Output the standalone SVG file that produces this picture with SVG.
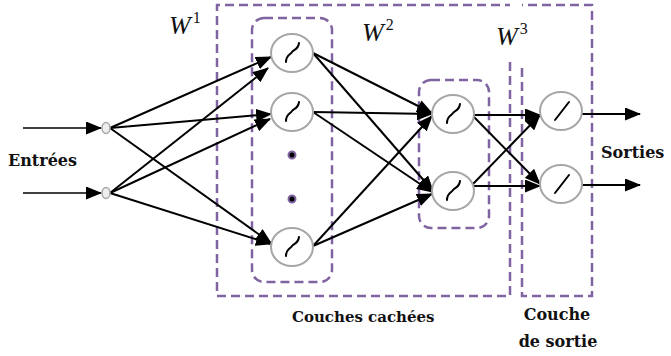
<svg xmlns="http://www.w3.org/2000/svg" xmlns:xlink="http://www.w3.org/1999/xlink" width="671" height="356" viewBox="0 0 671 356">
<style>
.box{fill:none;stroke:#8064A2;stroke-width:2.5;stroke-dasharray:9 5}
.neuron{fill:#fff;stroke:#a6a6a6;stroke-width:2}
.inp{fill:#eeeeee;stroke:#a6a6a6;stroke-width:1.5}
.glyph{fill:none;stroke:#000;stroke-width:2;stroke-linecap:round}
.edge{fill:none;stroke:#000;stroke-width:2;marker-end:url(#ah)}
.lbl{font-family:"DejaVu Serif","Liberation Serif",serif;font-weight:bold;font-size:16px;fill:#111}
.w{font-family:"Liberation Serif",serif;font-style:italic;font-size:26px;fill:#111}
.sup{font-style:normal;font-size:16px}
.dot{fill:#000;stroke:#8064A2;stroke-width:2}
</style>
<defs>
<marker id="ah" markerWidth="16" markerHeight="13" refX="15" refY="6.5" orient="auto" markerUnits="userSpaceOnUse">
<path d="M0,0 L16,6.5 L0,13 z" fill="#000"/>
</marker>
<path id="sig" class="glyph" d="M-6,9 C-6,2 -2,2 0,-1 C2,-4 6,-3 7,-10"/>
<path id="lin" class="glyph" d="M-7,9 L7,-9"/>
</defs>

<g id="boxes">
<path class="box" d="M510,62 L510,296 L217,296 L217,5 L510,5"/>
<path class="box" d="M522,68 L522,296 L592,296 L592,5 L522,5"/>
<rect class="box" x="252" y="18" width="80" height="264" rx="12"/>
<rect class="box" x="419" y="80" width="70" height="148" rx="12"/>
</g>

<g id="connectors">
<path class="edge" style="stroke-width:1.5" d="M23,128 L101,128"/>
<path class="edge" style="stroke-width:1.5" d="M23,193 L101,193"/>
<path class="edge" d="M110,128 L271,57"/>
<path class="edge" d="M110,128 L271,114"/>
<path class="edge" d="M110,128 L271,243"/>
<path class="edge" d="M110,193 L268,68"/>
<path class="edge" d="M110,193 L270,119"/>
<path class="edge" d="M110,193 L271,244"/>
<path class="edge" d="M313,53 L432,113"/>
<path class="edge" d="M313,53 L433,191"/>
<path class="edge" d="M313,112 L432,114"/>
<path class="edge" d="M313,112 L432,192"/>
<path class="edge" d="M313,246 L432,116"/>
<path class="edge" d="M313,246 L432,194"/>
<path class="edge" d="M474,115 L540,115"/>
<path class="edge" d="M473,116 L540,184"/>
<path class="edge" d="M473,184 L540,115"/>
<path class="edge" d="M474,186 L540,186"/>
<path class="edge" d="M582,114 L640,114"/>
<path class="edge" d="M582,185 L640,185"/>
</g>

<g id="in1"><ellipse class="inp" cx="106" cy="128" rx="4" ry="5.5"/></g>
<g id="in2"><ellipse class="inp" cx="106" cy="193" rx="4" ry="5.5"/></g>

<g id="h1a"><ellipse class="neuron" cx="292" cy="53" rx="21" ry="19"/><use xlink:href="#sig" x="292" y="53"/></g>
<g id="h1b"><ellipse class="neuron" cx="292" cy="112" rx="21" ry="19"/><use xlink:href="#sig" x="292" y="112"/></g>
<g id="h1dots"><circle class="dot" cx="292" cy="155" r="3.5"/><circle class="dot" cx="292" cy="199" r="3.5"/></g>
<g id="h1c"><ellipse class="neuron" cx="292" cy="247" rx="21" ry="19"/><use xlink:href="#sig" x="292" y="247"/></g>

<g id="h2a"><ellipse class="neuron" cx="453" cy="114" rx="21" ry="19"/><use xlink:href="#sig" x="453" y="114"/></g>
<g id="h2b"><ellipse class="neuron" cx="453" cy="191" rx="21" ry="19"/><use xlink:href="#sig" x="453" y="191"/></g>

<g id="o1"><ellipse class="neuron" cx="561" cy="111" rx="21" ry="19"/><use xlink:href="#lin" x="562" y="111"/></g>
<g id="o2"><ellipse class="neuron" cx="561" cy="184" rx="21" ry="19"/><use xlink:href="#lin" x="562" y="184"/></g>

<g id="labels">
<text class="w" x="169" y="34">W<tspan class="sup" dx="2" dy="-11">1</tspan></text>
<text class="w" x="362" y="41">W<tspan class="sup" dx="2" dy="-11">2</tspan></text>
<text class="w" x="496" y="45">W<tspan class="sup" dx="2" dy="-11">3</tspan></text>
<text class="lbl" x="8" y="166">Entrées</text>
<text class="lbl" x="601" y="158">Sorties</text>
<text class="lbl" x="292" y="322" style="font-size:15px">Couches cachées</text>
<text class="lbl" x="557" y="320" text-anchor="middle">Couche</text>
<text class="lbl" x="558" y="347" text-anchor="middle">de sortie</text>
</g>
</svg>
